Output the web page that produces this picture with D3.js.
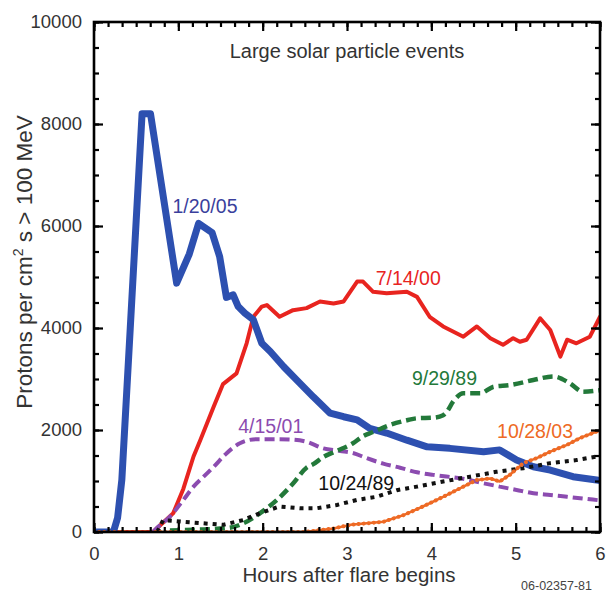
<!DOCTYPE html>
<html><head><meta charset="utf-8">
<script src="https://cdn.jsdelivr.net/npm/d3@7"></script>
<style>
html,body{margin:0;padding:0;background:#fff;}
svg text{font-family:"Liberation Sans",Arial,Helvetica,sans-serif;}
</style></head>
<body>
<svg id="c" width="607" height="592"></svg>
<script>
// ---- data (hours after flare, protons per cm^2 s > 100 MeV) ----
const xTicks = [0,1,2,3,4,5,6];
const yTicks = [0,2000,4000,6000,8000,10000];

const ev012005 = [[0,0],[0.23,0],[0.28,280],[0.33,1020],[0.43,4000],[0.57,8200],[0.67,8200],[0.98,4880],[1.13,5450],[1.24,6050],[1.40,5870],[1.49,5400],[1.57,4600],[1.65,4650],[1.71,4420],[1.79,4290],[1.89,4160],[1.99,3700],[2.09,3540],[2.25,3240],[2.44,2920],[2.60,2650],[2.80,2330],[2.96,2260],[3.12,2200],[3.27,2030],[3.47,1940],[3.71,1800],[3.95,1670],[4.22,1640],[4.62,1575],[4.81,1610],[5.01,1410],[5.21,1280],[5.41,1215],[5.68,1085],[5.96,1020],[6.0,1010]];
const ev071400 = [[0,0],[0.70,0],[0.94,370],[1.06,850],[1.18,1480],[1.26,1800],[1.42,2460],[1.53,2900],[1.69,3110],[1.81,3700],[1.89,4220],[1.99,4420],[2.05,4450],[2.20,4220],[2.36,4350],[2.52,4390],[2.68,4520],[2.84,4480],[2.96,4520],[3.12,4910],[3.19,4910],[3.31,4710],[3.47,4680],[3.71,4710],[3.83,4610],[3.98,4220],[4.14,4030],[4.38,3830],[4.54,4030],[4.70,3800],[4.85,3670],[4.97,3800],[5.05,3730],[5.13,3770],[5.29,4190],[5.41,3960],[5.53,3440],[5.61,3770],[5.72,3700],[5.88,3830],[6.0,4220]];
const ev092989 = [[0.9,30],[1.3,50],[1.6,80],[1.77,170],[1.97,370],[2.17,630],[2.36,950],[2.52,1260],[2.60,1330],[2.72,1470],[2.88,1590],[3.07,1740],[3.19,1880],[3.31,1960],[3.51,2100],[3.71,2190],[3.83,2230],[4.02,2240],[4.14,2290],[4.18,2350],[4.26,2560],[4.38,2720],[4.58,2720],[4.74,2850],[4.93,2880],[5.21,2980],[5.45,3050],[5.64,2920],[5.80,2750],[6.0,2780]];
const ev041501 = [[0.70,0],[0.74,70],[0.90,300],[1.06,630],[1.18,890],[1.30,1085],[1.42,1280],[1.57,1540],[1.73,1740],[1.93,1820],[2.17,1820],[2.36,1810],[2.52,1770],[2.72,1640],[2.92,1590],[3.07,1550],[3.23,1450],[3.43,1340],[3.63,1260],[3.83,1170],[4.02,1120],[4.22,1080],[4.42,1030],[4.62,955],[4.81,890],[5.01,825],[5.21,760],[5.41,725],[5.61,690],[6.0,620]];
const ev102489 = [[0.75,0],[0.82,235],[1.06,200],[1.30,170],[1.53,140],[1.77,235],[1.97,370],[2.20,500],[2.44,465],[2.64,465],[2.88,530],[3.12,630],[3.35,690],[3.59,820],[3.83,890],[4.14,990],[4.46,1085],[4.77,1180],[5.09,1250],[5.41,1350],[5.72,1410],[5.96,1480],[6.0,1500]];
const ev102803 = [[0,0],[2.5,0],[2.84,70],[3.04,140],[3.43,200],[3.67,330],[3.90,500],[4.14,690],[4.38,890],[4.54,1020],[4.70,1050],[4.81,990],[4.93,1120],[5.09,1350],[5.25,1450],[5.41,1575],[5.61,1710],[5.76,1840],[5.96,1970],[6.0,1980]];

const labels = ["1/20/05","7/14/00","9/29/89","4/15/01","10/24/89","10/28/03"];
const labelAt = [[0.93,6250],[3.34,4850],[3.77,2880],[1.71,1940],[2.66,820],[4.78,1850]];

// ---- drawing ----
const svg = d3.select("#c");
const L=94,R=600,T=22,B=532;
const x = d3.scaleLinear().domain([0,6]).range([L,R]);
const y = d3.scaleLinear().domain([0,10000]).range([B,T]);
const FONT = '"Liberation Sans",Arial,Helvetica,sans-serif';

// title
svg.append("text").attr("x",347).attr("y",58).attr("text-anchor","middle")
  .attr("font-size",20).attr("fill","#333").text("Large solar particle events");

svg.append("defs").append("clipPath").attr("id","pc")
  .append("rect").attr("x",L).attr("y",T-5).attr("width",R-L).attr("height",B-T+5);

const g = svg.append("g").attr("clip-path","url(#pc)");
const line = d3.line().x(d=>x(d[0])).y(d=>y(d[1]));
const smooth = d3.line().x(d=>x(d[0])).y(d=>y(d[1])).curve(d3.curveMonotoneX);

const series = [
  {d:ev102803, c:"#ee6a25", w:2.5, dash:null, gen:line},
  {d:ev071400, c:"#e8241f", w:4, dash:null, gen:line},
  {d:ev012005, c:"#2d50b0", w:7, dash:null, gen:line},
  {d:ev041501, c:"#8c4cb0", w:4, dash:"10 5", gen:smooth},
  {d:ev092989, c:"#23793a", w:4.5, dash:"10 5", gen:smooth},
  {d:ev102489, c:"#111", w:4, dash:"4 5", gen:line},
];
series.forEach(s=>{
  g.append("path").attr("d",s.gen(s.d)).attr("fill","none")
   .attr("stroke",s.c).attr("stroke-width",s.w)
   .attr("stroke-linejoin","round").attr("stroke-linecap",s.dash?"butt":"round")
   .attr("stroke-dasharray",s.dash);
});
// orange beaded texture
g.append("path").attr("d",line(ev102803)).attr("fill","none")
  .attr("stroke","#ee6a25").attr("stroke-width",4).attr("stroke-linecap","round")
  .attr("stroke-dasharray","0.1 5");

// series labels
const labCol = ["#3a3f9c","#e8241f","#23793a","#8c4cb0","#111","#ee6a25"];
labels.forEach((t,i)=>{
  svg.append("text").attr("x",x(labelAt[i][0])).attr("y",y(labelAt[i][1]))
    .attr("font-size",19.5).attr("fill",labCol[i]).text(t);
});

// axes
function styleAxis(sel){
  sel.selectAll("path").remove();
  sel.selectAll("line").attr("stroke","#000").attr("stroke-width",2.2);
  sel.selectAll("text").attr("font-family",FONT).attr("fill","#333");
}
const minorX = d3.range(0,6+1e-9,1/6);
const minorY = d3.range(0,10001,500);

svg.append("g").attr("transform",`translate(0,${B})`)
  .call(d3.axisBottom(x).tickValues(minorX).tickSize(-5).tickFormat("")).call(styleAxis);
svg.append("g").attr("transform",`translate(0,${B})`)
  .call(d3.axisBottom(x).tickValues(xTicks).tickSize(-9).tickPadding(15).tickFormat(d3.format("d")))
  .call(styleAxis).selectAll("text").attr("font-size",18.5);
svg.append("g").attr("transform",`translate(0,${T})`)
  .call(d3.axisTop(x).tickValues(minorX).tickSize(-5).tickFormat("")).call(styleAxis);
svg.append("g").attr("transform",`translate(0,${T})`)
  .call(d3.axisTop(x).tickValues(xTicks).tickSize(-9).tickFormat("")).call(styleAxis);

svg.append("g").attr("transform",`translate(${L},0)`)
  .call(d3.axisLeft(y).tickValues(minorY).tickSize(-5).tickFormat("")).call(styleAxis);
svg.append("g").attr("transform",`translate(${L},0)`)
  .call(d3.axisLeft(y).tickValues(yTicks).tickSize(-9).tickPadding(12).tickFormat(d3.format("d")))
  .call(styleAxis).selectAll("text").attr("font-size",18.5);
svg.append("g").attr("transform",`translate(${R},0)`)
  .call(d3.axisRight(y).tickValues(minorY).tickSize(-5).tickFormat("")).call(styleAxis);
svg.append("g").attr("transform",`translate(${R},0)`)
  .call(d3.axisRight(y).tickValues(yTicks).tickSize(-9).tickFormat("")).call(styleAxis);

// frame
svg.append("rect").attr("x",L).attr("y",T).attr("width",R-L).attr("height",B-T)
  .attr("fill","none").attr("stroke","#000").attr("stroke-width",2.6);

// axis titles
svg.append("text").attr("x",349).attr("y",582).attr("text-anchor","middle")
  .attr("font-size",20.5).attr("fill","#333").text("Hours after flare begins");
const yl = svg.append("text").attr("transform","translate(32,262) rotate(-90)")
  .attr("text-anchor","middle").attr("font-size",22.5).attr("fill","#333");
yl.append("tspan").text("Protons per cm");
yl.append("tspan").attr("font-size",14).attr("dy",-9).text("2");
yl.append("tspan").attr("dy",9).text(" s > 100 MeV");

svg.append("text").attr("x",592).attr("y",590).attr("text-anchor","end")
  .attr("font-size",12.5).attr("fill","#444").text("06-02357-81");
</script>
</body></html>
